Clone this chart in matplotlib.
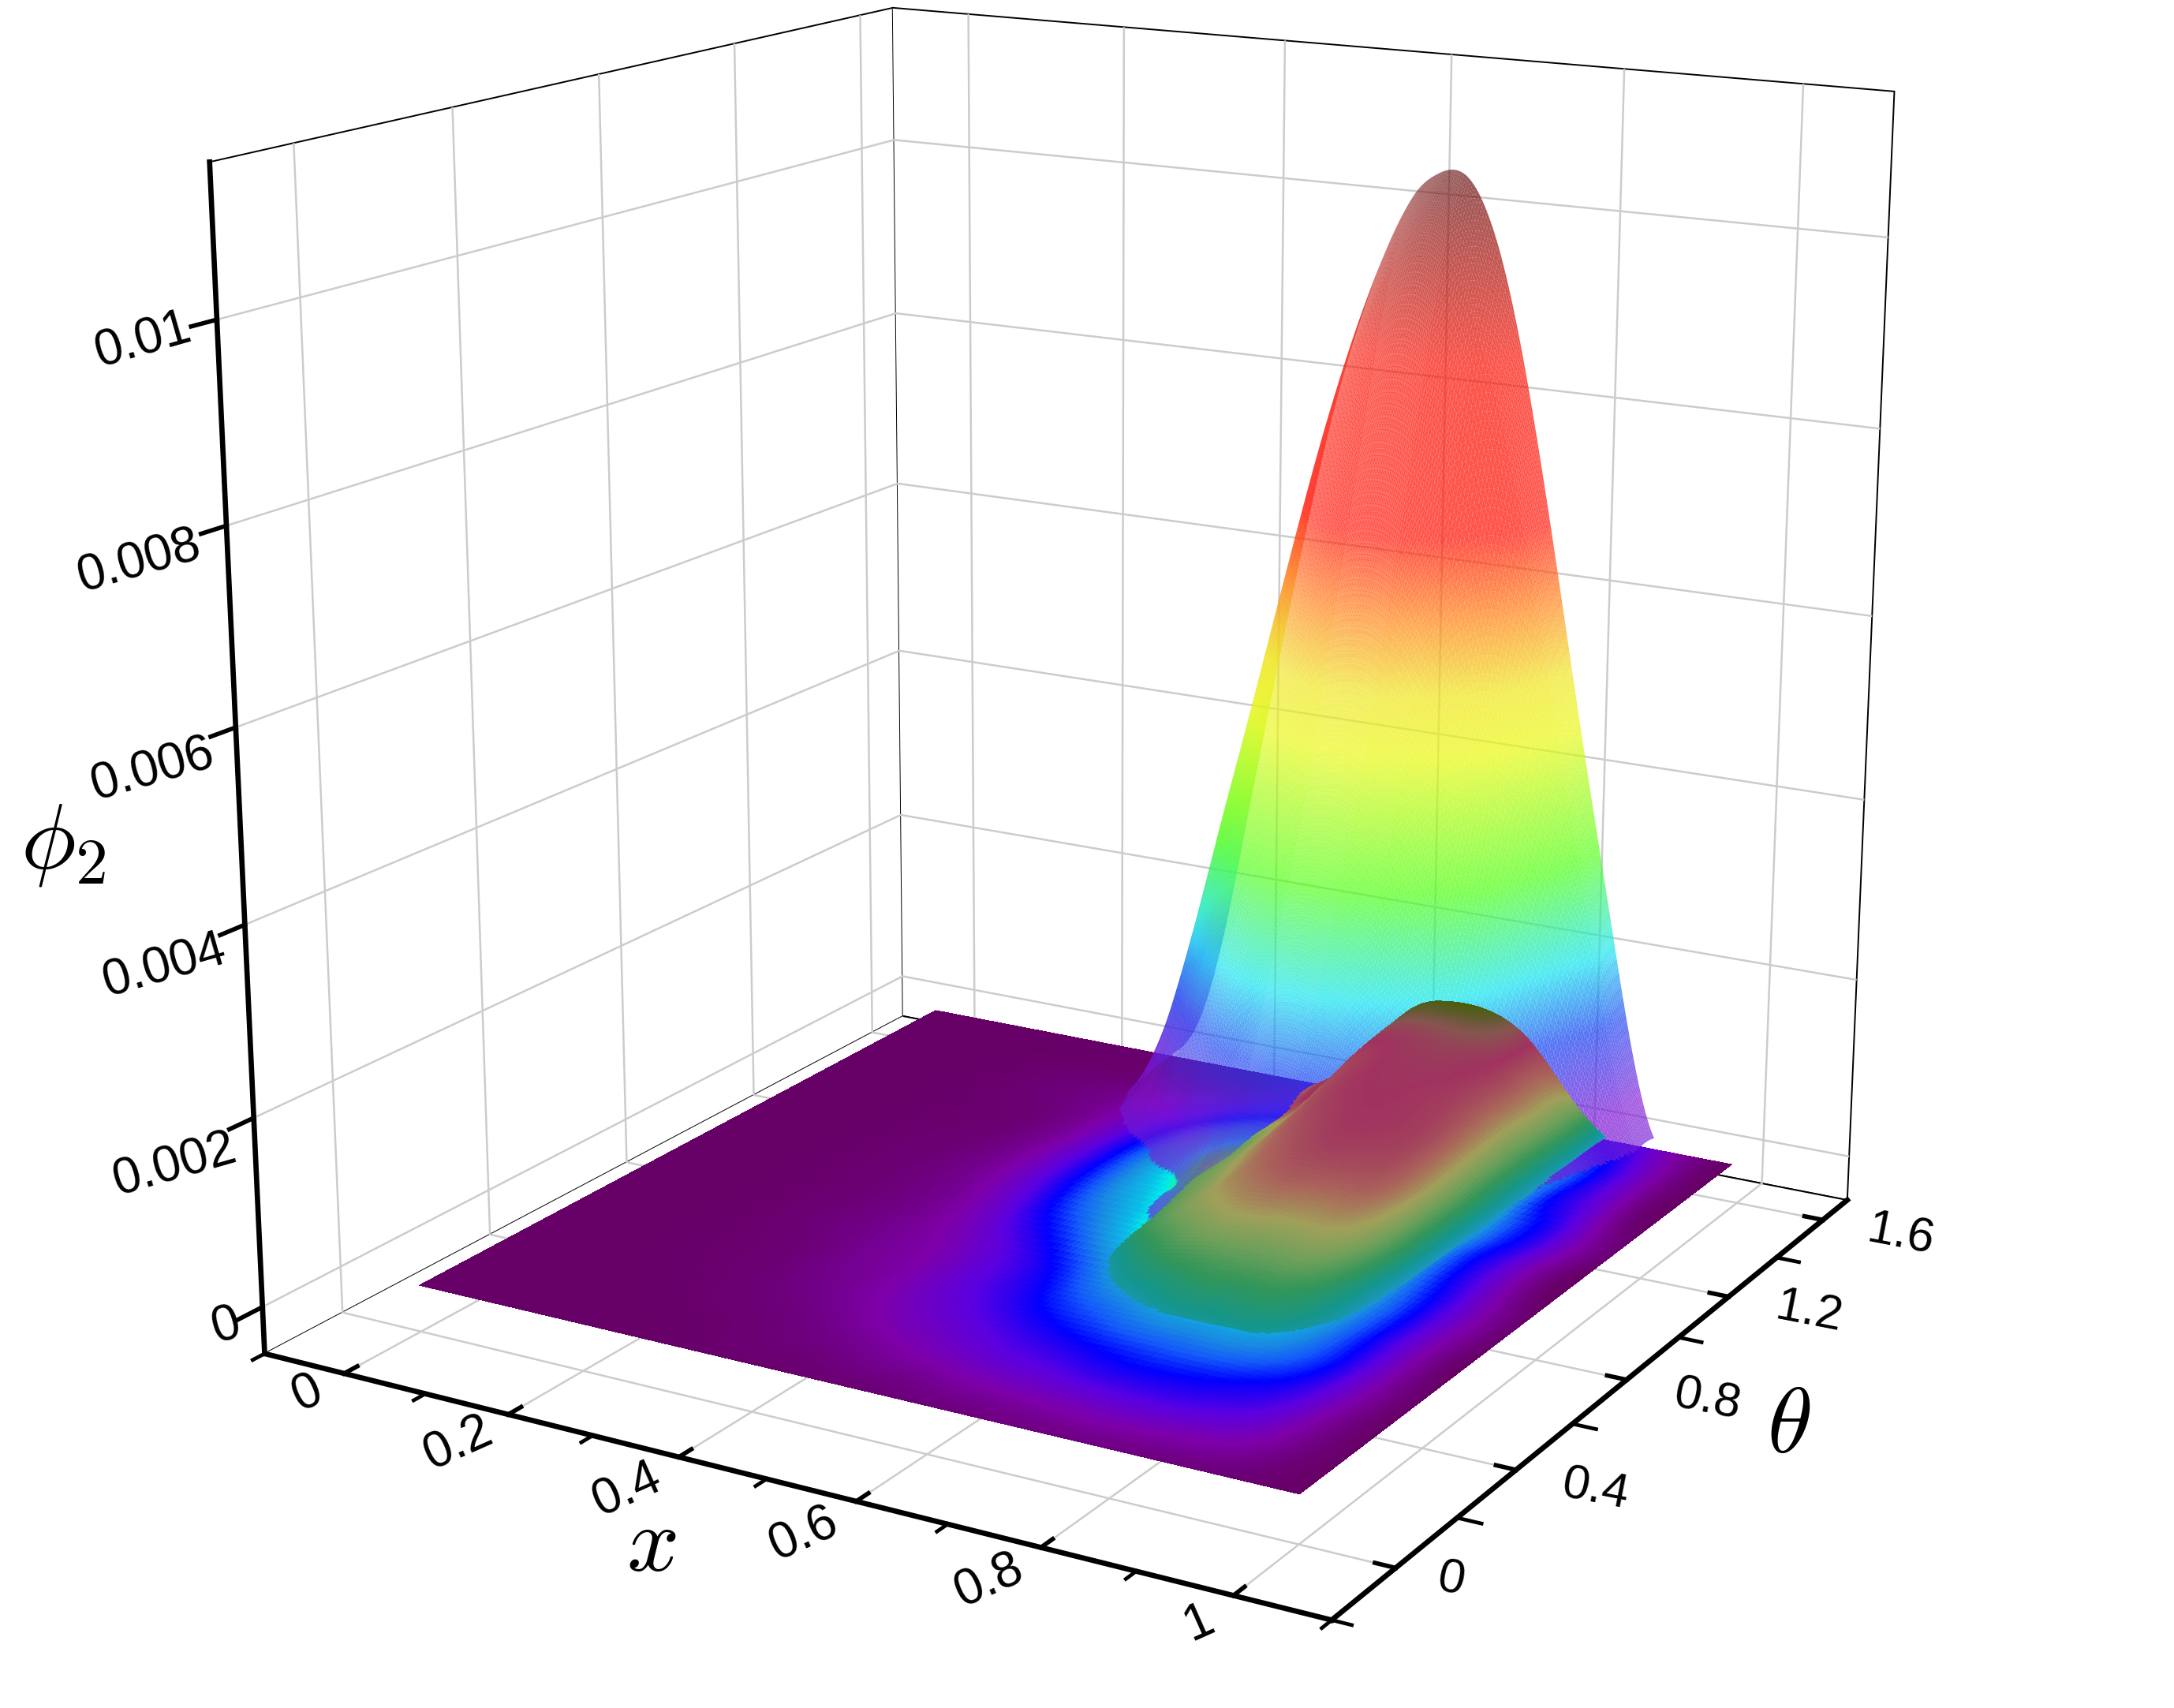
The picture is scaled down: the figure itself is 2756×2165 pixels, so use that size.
import numpy as np, matplotlib
matplotlib.use('Agg')
import matplotlib.pyplot as plt
from matplotlib import tri
from matplotlib.colors import LinearSegmentedColormap as LSC
from matplotlib.transforms import ScaledTranslation
from mpl_toolkits.mplot3d import proj3d
from mpl_toolkits.mplot3d.art3d import Poly3DCollection

W,H=2756,2165
plt.rcParams['font.family']=['Liberation Sans','DejaVu Sans']
plt.rcParams['mathtext.fontset']='cm'

# ---- data (phi in units of 1e-3) ----
x_ticks=[0,.2,.4,.6,.8,1]; x_labels=['0','0.2','0.4','0.6','0.8','1']
x_minor=[.1,.3,.5,.7,.9]
t_ticks=[0,.4,.8,1.2,1.6]; t_labels=['0','0.4','0.8','1.2','1.6']
t_minor=[.2,.6,1.0,1.4]
z_ticks=[0,.002,.004,.006,.008,.01]; z_labels=['0','0.002','0.004','0.006','0.008','0.01']

x_low=[0,.1,.2,.3,.35,.4,.45,.5,.55,.6,.65,.7,.75,.8,.85,.9,.95,1]
t_low=[0,.1,.2,.3,.45,.6,.8,1,1.2,1.4,1.5708]
low_height=[
[0]*18,[0]*18,[0]*18,[0]*18,
[0,0,0,0,0,0,0,0,0,.01,.01,.01,.01,.01,0,0,0,0],
[0,0,0,0,0,0,0,0,0,.07,.14,.2,.2,.14,.03,0,0,0],
[0,0,0,0,0,0,0,0,.04,.25,.42,.48,.42,.26,.06,0,0,0],
[0,0,0,0,0,0,0,0,.09,.38,.7,.78,.66,.4,.07,0,0,0],
[0,0,0,0,0,0,0,0,.16,.62,.98,1.02,.85,.5,.07,0,0,0],
[0,0,0,0,0,0,0,0,.26,.85,1.16,1.18,.98,.52,.06,0,0,0],
[0,0,0,0,0,0,0,.02,.42,.95,1.24,1.25,1.05,.52,.05,0,0,0]]
low_colour=[
[0,0,0,.005,.01,.01,.015,.02,.025,.03,.035,.04,.04,.04,.035,.03,.015,0],
[0,0,.002,.01,.02,.03,.04,.06,.07,.09,.1,.11,.12,.12,.11,.09,.04,0],
[0,0,.005,.02,.03,.05,.08,.11,.14,.17,.19,.21,.22,.22,.2,.15,.06,0],
[0,0,.01,.03,.05,.08,.12,.16,.2,.24,.27,.3,.31,.3,.27,.2,.08,0],
[0,0,.012,.04,.07,.1,.16,.22,.29,.36,.41,.44,.45,.44,.38,.26,.1,0],
[0,0,.015,.05,.08,.12,.19,.27,.38,.5,.56,.6,.6,.56,.43,.27,.11,0],
[0,0,.015,.05,.1,.2,.33,.45,.6,.72,.8,.82,.8,.7,.45,.27,.11,0],
[0,0,.015,.05,.12,.25,.42,.58,.72,.85,.93,.97,.95,.8,.46,.27,.11,0],
[0,0,.012,.04,.1,.22,.4,.6,.78,.92,.98,1,.98,.82,.46,.27,.11,0],
[0,0,.01,.03,.07,.14,.28,.85,.9,.98,1.02,1.05,1.0,.82,.46,.27,.11,0],
[0,0,.005,.02,.04,.07,.13,.9,1.0,1.15,1.28,1.3,1.05,.85,.45,.27,.1,0]]
floor_back_rows=[
[0,0,.01,.03,.05,.09,.15,.24,.3,.3,.3,.3,.3,.36,.4,.25,.09,0],
[0,0,.005,.015,.025,.04,.07,.12,.18,.2,.2,.2,.2,.25,.28,.18,.07,0]]

x_high=[.3,.35,.4,.45,.5,.55,.6,.63,.66,.7,.75,.8,.85,.9,.95,1]
t_high=[.7,.9,1.0,1.1,1.2,1.3,1.4,1.5,1.5708]
high_height=[
[0,0,0,0,.01,.03,.08,.1,.1,.09,.07,.05,0,0,0,0],
[0,0,0,0,.05,.2,.55,.72,.7,.64,.54,.36,.02,0,0,0],
[0,0,0,.02,.1,.5,1.25,1.45,1.42,1.29,1.08,.71,.05,0,0,0],
[0,0,.03,.2,1.0,2.0,2.5,2.6,2.53,2.3,1.92,1.27,.1,0,0,0],
[0,.04,.3,1.25,2.7,3.5,3.95,4.04,3.95,3.6,3,2,.3,0,0,0],
[0,.12,1.0,2.7,4.15,5.15,5.8,5.9,5.8,5.25,4.4,2.9,.8,0,0,0],
[0,.28,1.8,3.8,5.55,6.85,7.75,7.9,7.75,7.05,5.85,3.88,1.5,.1,0,0],
[0,.42,2.3,4.65,6.8,8.4,9.45,9.75,9.65,8.85,7.15,4.75,2.35,.33,.02,0],
[0,.5,2.5,5,7.3,9,10.1,10.38,10.4,9.7,7.7,5.1,2.55,.35,.02,0]]

floor_stops=[(0,(102,0,102)),(.1,(125,0,170)),(.2,(90,0,225)),(.3,(0,0,255)),(.38,(20,90,250)),
 (.45,(25,140,225)),(.55,(10,190,230)),(.6,(0,235,235)),(.68,(40,255,60)),(.82,(230,255,60)),(.92,(255,160,50)),(1,(255,50,50))]
hump_stops=[(0,(102,0,102)),(.3,(30,90,230)),(.4,(30,150,210)),(.5,(20,150,140)),(.6,(50,150,90)),
 (.7,(110,160,90)),(.8,(160,160,90)),(.9,(170,100,90)),(1,(160,50,95)),(1.1,(135,85,80)),(1.2,(95,90,45)),(1.3,(72,95,10))]
peak_stops=[(0,(110,30,215)),(.05,(131,26,214)),(.14,(26,68,242)),(.21,(19,228,242)),(.31,(82,255,26)),
 (.44,(235,249,19)),(.5,(240,230,30)),(.57,(255,137,26)),(.65,(255,26,12)),(.82,(250,26,12)),(1,(110,26,26))]
def cm(st):
    m=st[-1][0]
    return LSC.from_list('c',[(a/m,tuple(v/255 for v in b)) for a,b in st])

# ---- camera and box ----
ELEV,AZIM,FOCAL=15.75087,-59.70686,np.exp(-.7345)
XLIM,TLIM,ZLIM=(-.09965,1.099),(-.19919,1.70846),(-.0005,.0115)
S,TX,TY=13721.992,1376.70,1255.53

fig=plt.figure(figsize=(W/200,H/200),dpi=200)
ax=fig.add_axes([0,0,1,1],projection='3d')
ax.set_proj_type('persp',focal_length=FOCAL)
ax.view_init(ELEV,AZIM)
ax.set_box_aspect((1.00167,.99523,1))
ax.set_xlim(*XLIM,view_margin=0);ax.set_ylim(*TLIM,view_margin=0);ax.set_zlim(*ZLIM,view_margin=0)
ax.apply_aspect()
p0,p1=ax.transData.transform([(0,0),(1,1)])
s0=(p1-p0)[0]; dc=(np.array([W/2,H/2])-p0)/s0
L=H*S/s0; cx,cy=S*dc[0]+TX,S*dc[1]+TY
ax.set_position([(cx-L/2)/W,(cy-L/2)/H,L/W,L/H])
ax.patch.set_alpha(0)
ax.computed_zorder=False

def mesh(xs,ts,z,c,cmap,cmax,thr,alpha,zo,sub=3,aa=False):
    xs,ts=np.array(xs,float),np.array(ts,float)
    X,Y=np.meshgrid(xs,ts)
    nx=len(xs);tris=[]
    for j in range(len(ts)-1):
        for i in range(nx-1):
            a=j*nx+i
            tris+= [[a,a+1,a+nx+1],[a,a+nx+1,a+nx]]
    tr=tri.Triangulation(X.ravel(),Y.ravel(),np.array(tris))
    rf=tri.UniformTriRefiner(tr)
    t2,z2=rf.refine_field(np.array(z,float).ravel(),subdiv=sub)
    _,c2=rf.refine_field(np.array(c,float).ravel(),subdiv=sub)
    z2=np.clip(z2,0,None);c2=np.clip(c2,0,cmax)
    T=t2.triangles
    zm=z2[T].mean(1);keep=zm>=thr
    T=T[keep]
    verts=np.stack([t2.x[T],t2.y[T],z2[T]*1e-3],axis=-1)
    col=cmap(c2[T].mean(1)/cmax);col[:,3]=alpha
    pc=Poly3DCollection(verts,facecolors=col,edgecolors='none',linewidths=0,antialiased=aa,zsort='average')
    pc.set_zorder(zo)
    ax.add_collection3d(pc,autolim=False)

mesh(x_low,t_low,np.zeros((11,18)),low_colour[:9]+floor_back_rows,cm(floor_stops),1,-1,1,1,3)
mesh(x_high,t_high,high_height,high_height,cm(peak_stops),10.4,.15,.75,2,4,True)
mesh(x_low,t_low,low_height,low_colour,cm(hump_stops),1.3,.045,1,3,4)

for a in (ax.xaxis,ax.yaxis,ax.zaxis):
    a.set_pane_color((1,1,1,1))
    a.pane.set_edgecolor('k');a.pane.set_linewidth(.7)
    a.line.set_linewidth(2.4);a.line.set_color('k')
    a._axinfo['grid'].update(color='#cccccc',linewidth=.9)
    a._axinfo['tick'].update(inward_factor=0,outward_factor=.22,linewidth={True:2.0,False:1})
ax.zaxis._axinfo['tick'].update(outward_factor=0,linewidth={True:0,False:0})
ax.zaxis.set_ticks_position('lower')
ax.set_xticks(x_ticks,labels=['']*len(x_ticks));ax.set_yticks(t_ticks,labels=['']*len(t_ticks));ax.set_zticks(z_ticks,labels=['']*len(z_ticks))
for xm in x_minor:
    ax.plot([xm,xm],[TLIM[0],TLIM[0]-.03],[ZLIM[0]]*2,color='k',lw=1.7,zorder=5,clip_on=False)
for tm in t_minor:
    ax.plot([XLIM[1],XLIM[1]+.025],[tm,tm],[ZLIM[0]]*2,color='k',lw=1.7,zorder=5,clip_on=False)
for zt in z_ticks:
    ax.plot([XLIM[0]]*2,[TLIM[0],TLIM[0]-.06],[zt,zt],color='k',lw=2.0,zorder=5,clip_on=False)
ax.plot([XLIM[0]]*2,[TLIM[0],TLIM[0]-.03],[ZLIM[0]]*2,color='k',lw=1.7,zorder=5,clip_on=False)
ax.plot([XLIM[1]]*2,[TLIM[0],TLIM[0]-.03],[ZLIM[0]]*2,color='k',lw=1.7,zorder=5,clip_on=False)
ax.plot([XLIM[1],XLIM[1]+.02],[TLIM[0]]*2,[ZLIM[0]]*2,color='k',lw=1.7,zorder=5,clip_on=False)

M=ax.get_proj()
def label(x,y,z,s,dx,dy,size,rot):
    a,b,_=proj3d.proj_transform(x,y,z,M)
    ax.text2D(a,b,s,transform=ax.transData+ScaledTranslation(dx/200,-dy/200,fig.dpi_scale_trans),
        fontsize=size,rotation=rot,ha='center',va='center',rotation_mode='anchor')
x_off=[(-47,26),(-63,37),(-66,42),(-66,42),(-66,42),(-44,35)]
t_off=[(70,16),(100,26),(102,26),(102,20),(98,20)]
z_off=[(-46,25),(-100,60),(-102,53),(-105,54),(-110,46),(-93,27)]
for v,s,o in zip(x_ticks,x_labels,x_off): label(v,TLIM[0],ZLIM[0],s,*o,23,24)
for v,s,o in zip(t_ticks,t_labels,t_off): label(XLIM[1],v,ZLIM[0],s,*o,22,-11)
for v,s,o in zip(z_ticks,z_labels,z_off): label(XLIM[0],TLIM[0],v,s,*o,23,16)
fig.text(826/W,1-1960/H,r'$x$',fontsize=42,ha='center',va='center')
fig.text(2268/W,1-1811/H,r'$\theta$',fontsize=42,ha='center',va='center')
fig.text(80/W,1-1072/H,r'$\phi_2$',fontsize=42,ha='center',va='center')
fig.savefig('out.png',dpi=200)
